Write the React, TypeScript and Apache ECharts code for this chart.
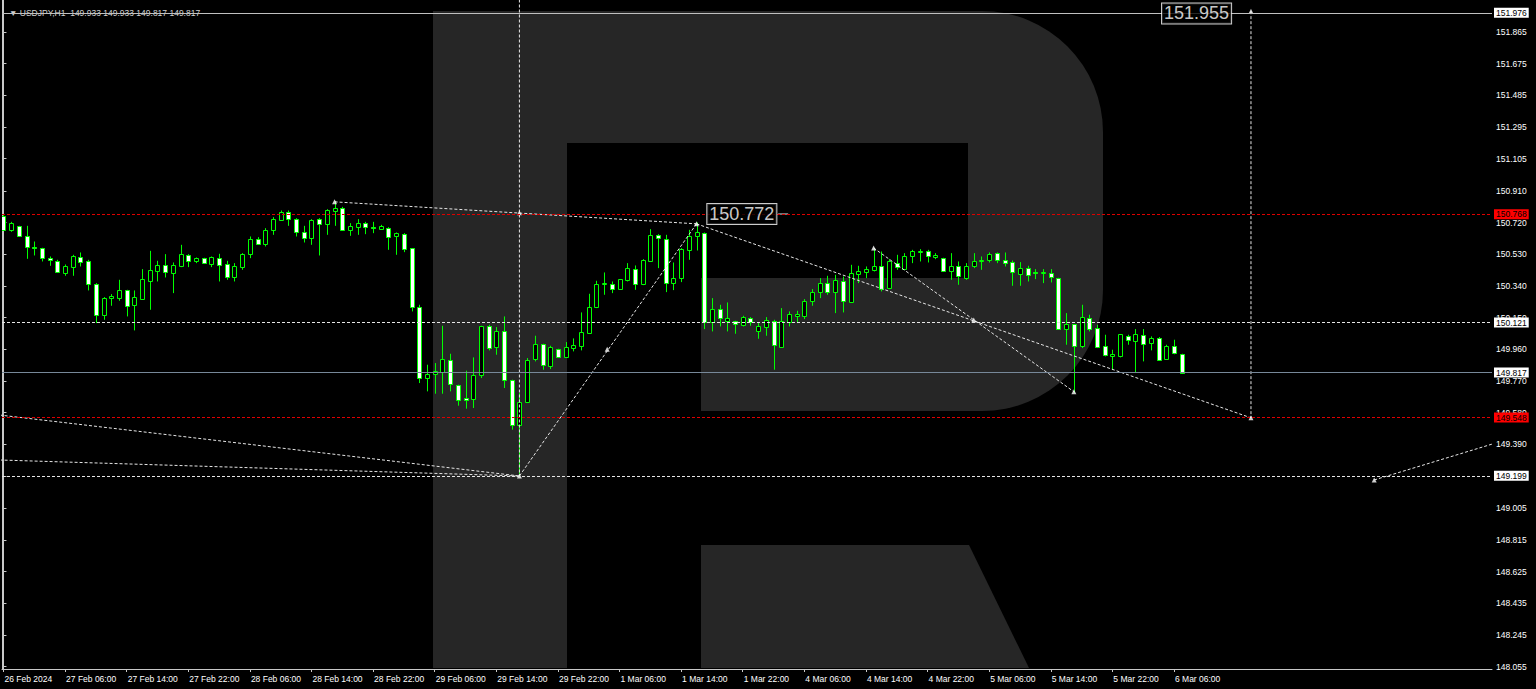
import React, { useEffect, useRef } from "react";
import * as echarts from "echarts";

// ---- data (USDJPY H1, bar index 0 = 26 Feb 22:00) ----
const opens = [
  150.761, 150.673, 150.701, 150.641, 150.573, 150.567, 150.509, 150.491, 150.417, 150.453,
  150.513, 150.487, 150.353, 150.165, 150.265, 150.267, 150.313, 150.223, 150.261, 150.367,
  150.431, 150.463, 150.417, 150.457, 150.527, 150.487, 150.507, 150.471, 150.507, 150.473,
  150.391, 150.451, 150.531, 150.623, 150.593, 150.677, 150.737, 150.785, 150.745, 150.665,
  150.627, 150.741, 150.709, 150.793, 150.811, 150.673, 150.693, 150.717, 150.693, 150.681,
  150.689, 150.641, 150.653, 150.567, 150.213, 149.787, 149.811, 149.821, 149.897, 149.747,
  149.667, 149.663, 149.803, 150.101, 149.971, 150.071, 149.777, 149.507, 149.641, 149.901,
  149.993, 149.861, 149.961, 149.913, 149.967, 149.981, 150.057, 150.211, 150.351, 150.351,
  150.321, 150.377, 150.443, 150.351, 150.491, 150.647, 150.623, 150.357, 150.387, 150.557,
  150.641, 150.657, 150.121, 150.201, 150.127, 150.127, 150.107, 150.147, 150.067, 150.093,
  150.127, 149.973, 150.121, 150.161, 150.157, 150.247, 150.301, 150.357, 150.301, 150.367,
  150.241, 150.411, 150.421, 150.437, 150.457, 150.327, 150.477, 150.441, 150.517, 150.541,
  150.551, 150.513, 150.507, 150.427, 150.461, 150.387, 150.461, 150.491, 150.493, 150.537,
  150.493, 150.481, 150.413, 150.447, 150.421, 150.415, 150.417, 150.387, 150.083, 150.111,
  149.977, 150.147, 150.087, 149.977, 149.917, 149.917, 150.041, 150.011, 150.043, 149.997,
  150.027, 149.901, 149.977, 149.933,
];
const closes = [
  150.677, 150.717, 150.637, 150.571, 150.565, 150.507, 150.493, 150.421, 150.459, 150.521,
  150.481, 150.349, 150.167, 150.267, 150.277, 150.313, 150.217, 150.273, 150.381, 150.433,
  150.463, 150.421, 150.463, 150.531, 150.487, 150.507, 150.477, 150.511, 150.463, 150.391,
  150.457, 150.533, 150.621, 150.593, 150.677, 150.741, 150.787, 150.741, 150.661, 150.627,
  150.737, 150.709, 150.797, 150.809, 150.673, 150.701, 150.717, 150.693, 150.687, 150.697,
  150.633, 150.657, 150.563, 150.213, 149.787, 149.811, 149.827, 149.901, 149.751, 149.657,
  149.657, 149.807, 150.097, 149.967, 150.071, 149.773, 149.507, 149.643, 149.897, 149.991,
  149.863, 149.971, 149.911, 149.973, 149.987, 150.063, 150.213, 150.353, 150.357, 150.323,
  150.381, 150.447, 150.351, 150.497, 150.647, 150.627, 150.357, 150.387, 150.561, 150.641,
  150.663, 150.121, 150.201, 150.147, 150.147, 150.111, 150.153, 150.123, 150.097, 150.137,
  149.983, 150.127, 150.173, 150.173, 150.251, 150.303, 150.357, 150.301, 150.377, 150.247,
  150.417, 150.427, 150.441, 150.457, 150.321, 150.487, 150.453, 150.521, 150.551, 150.547,
  150.521, 150.527, 150.427, 150.457, 150.397, 150.461, 150.491, 150.497, 150.533, 150.497,
  150.477, 150.421, 150.447, 150.407, 150.415, 150.421, 150.391, 150.081, 150.111, 149.977,
  150.153, 150.083, 149.973, 149.927, 149.933, 150.051, 150.013, 150.051, 149.993, 150.027,
  149.897, 149.981, 149.935, 149.817,
];
const lows = [
  150.671, 150.665, 150.635, 150.503, 150.523, 150.487, 150.461, 150.419, 150.401, 150.401,
  150.457, 150.313, 150.117, 150.137, 150.221, 150.251, 150.157, 150.073, 150.257, 150.197,
  150.367, 150.391, 150.297, 150.453, 150.453, 150.477, 150.473, 150.453, 150.367, 150.377,
  150.367, 150.437, 150.507, 150.587, 150.577, 150.647, 150.731, 150.701, 150.637, 150.601,
  150.587, 150.523, 150.647, 150.701, 150.671, 150.641, 150.647, 150.651, 150.657, 150.677,
  150.557, 150.527, 150.543, 150.187, 149.757, 149.707, 149.693, 149.693, 149.707, 149.621,
  149.603, 149.607, 149.787, 149.953, 149.927, 149.727, 149.477, 149.199, 149.637, 149.887,
  149.837, 149.841, 149.909, 149.907, 149.947, 149.953, 150.057, 150.207, 150.287, 150.297,
  150.317, 150.367, 150.317, 150.345, 150.487, 150.447, 150.303, 150.315, 150.363, 150.497,
  150.553, 150.081, 150.067, 150.097, 150.067, 150.053, 150.097, 150.101, 150.023, 150.041,
  149.837, 149.973, 150.097, 150.117, 150.141, 150.221, 150.267, 150.287, 150.177, 150.181,
  150.241, 150.357, 150.387, 150.427, 150.307, 150.321, 150.437, 150.437, 150.477, 150.487,
  150.481, 150.501, 150.425, 150.377, 150.347, 150.377, 150.447, 150.437, 150.481, 150.477,
  150.457, 150.341, 150.341, 150.367, 150.381, 150.357, 150.361, 150.077, 149.987, 149.697,
  149.967, 150.067, 149.967, 149.917, 149.837, 149.911, 149.987, 149.817, 149.887, 149.953,
  149.891, 149.897, 149.930, 149.817,
];
const highs = [
  150.767, 150.725, 150.701, 150.701, 150.607, 150.569, 150.517, 150.497, 150.469, 150.527,
  150.541, 150.497, 150.357, 150.273, 150.291, 150.377, 150.317, 150.313, 150.441, 150.551,
  150.491, 150.531, 150.481, 150.587, 150.531, 150.511, 150.509, 150.517, 150.533, 150.491,
  150.477, 150.537, 150.637, 150.633, 150.687, 150.753, 150.793, 150.793, 150.747, 150.701,
  150.741, 150.747, 150.801, 150.847, 150.815, 150.717, 150.741, 150.725, 150.725, 150.707,
  150.693, 150.661, 150.657, 150.567, 150.227, 149.867, 149.877, 150.101, 149.933, 149.747,
  149.831, 149.911, 150.101, 150.107, 150.093, 150.157, 149.777, 149.697, 149.907, 150.041,
  149.993, 149.981, 149.963, 150.003, 150.025, 150.181, 150.293, 150.371, 150.421, 150.367,
  150.381, 150.477, 150.463, 150.501, 150.681, 150.651, 150.647, 150.481, 150.567, 150.677,
  150.721, 150.661, 150.267, 150.227, 150.241, 150.131, 150.161, 150.153, 150.117, 150.153,
  150.137, 150.207, 150.187, 150.191, 150.261, 150.321, 150.387, 150.401, 150.407, 150.397,
  150.467, 150.461, 150.457, 150.560, 150.547, 150.501, 150.527, 150.537, 150.557, 150.561,
  150.557, 150.537, 150.509, 150.537, 150.487, 150.477, 150.537, 150.517, 150.541, 150.541,
  150.541, 150.493, 150.483, 150.461, 150.441, 150.441, 150.441, 150.389, 150.177, 150.111,
  150.227, 150.167, 150.107, 150.047, 149.957, 150.051, 150.047, 150.081, 150.081, 150.037,
  150.033, 149.987, 150.017, 149.933,
];

const timeTickIndex = [0, 8, 16, 24, 32, 40, 48, 56, 64, 72, 80, 88, 96, 104, 112, 120, 128, 136, 144, 152];
const timeTickLabels = [
  "26 Feb 2024", "27 Feb 06:00", "27 Feb 14:00", "27 Feb 22:00", "28 Feb 06:00", "28 Feb 14:00",
  "28 Feb 22:00", "29 Feb 06:00", "29 Feb 14:00", "29 Feb 22:00", "1 Mar 06:00", "1 Mar 14:00",
  "1 Mar 22:00", "4 Mar 06:00", "4 Mar 14:00", "4 Mar 22:00", "5 Mar 06:00", "5 Mar 14:00",
  "5 Mar 22:00", "6 Mar 06:00",
];
const priceTicks = [
  151.865, 151.675, 151.485, 151.295, 151.105, 150.91, 150.72, 150.53, 150.34, 150.15, 149.96,
  149.77, 149.58, 149.39, 149.2, 149.005, 148.815, 148.625, 148.435, 148.245, 148.055,
];

// horizontal levels: value, kind
const levelValues = [151.976, 150.768, 150.121, 149.817, 149.548, 149.199];
const levelKinds = ["gray", "red", "white", "bid", "red", "white"];

// forecast / trend lines in [bar index, price]
const trendLines = [
  [[43, 150.845], [90, 150.713]],
  [[-0.5, 149.565], [67, 149.199]],
  [[-0.5, 149.295], [67, 149.199]],
  [[67, 149.199], [90, 150.713]],
  [[90, 150.713], [162, 149.548]],
  [[113, 150.568], [139, 149.705]],
  [[178, 149.175], [194, 149.4]],
  [[67, 152.06], [67, 149.199]],
  [[162, 151.99], [162, 149.548]],
  [[100.6, 150.772], [101.9, 150.772]],
  [[159.8, 151.976], [161.2, 151.976]],
];
const arrowPoints = [
  [43, 150.845], [67, 150.779], [90, 150.713], [78.4, 149.96], [67, 149.199], [113, 150.568],
  [126, 150.136], [139, 149.705], [162, 149.548], [162, 151.99], [178, 149.175],
];
const noteLabels = [
  [91.4, 150.772, "150.772"],
  [150.45, 151.976, "151.955"],
];

const FONT = "Liberation Sans, Arial, sans-serif";
const GREEN = "#00ff00";
const AXIS = "#c8c8c8";
const LOGO = "#262626";

export default function App() {
  const ref = useRef<HTMLDivElement>(null);
  useEffect(() => {
    document.body.style.margin = "0";
    document.body.style.background = "#000";
    const chart = echarts.init(ref.current as HTMLDivElement, null, { renderer: "svg" });

    const candleData = opens.map((o, i) => [i, o, closes[i], lows[i], highs[i]]);

    const levelStyle = (kind: string) => {
      if (kind === "red") return { line: { color: "#e00000", width: 1, type: [3, 2] }, bg: "#ff0000", fg: "#000" };
      if (kind === "white") return { line: { color: "#e6e6e6", width: 1, type: [3, 2] }, bg: "#ffffff", fg: "#000" };
      if (kind === "bid") return { line: { color: "#778899", width: 1, type: "solid" }, bg: "#ffffff", fg: "#000" };
      return { line: { color: "#c0c0c0", width: 1, type: "solid" }, bg: "#ffffff", fg: "#000" };
    };

    const series: any[] = [];
    series.push({
      type: "custom",
      name: "candles",
      z: 4,
      clip: true,
      data: candleData,
      encode: { x: 0, y: [1, 2, 3, 4] },
      renderItem: (params: any, api: any) => {
        const x = api.value(0);
        const o = api.value(1);
        const c = api.value(2);
        const l = api.value(3);
        const h = api.value(4);
        const pO = api.coord([x, o]);
        const pC = api.coord([x, c]);
        const pL = api.coord([x, l]);
        const pH = api.coord([x, h]);
        const cx = Math.round(pO[0]) + 0.5;
        const top = Math.round(Math.min(pO[1], pC[1])) + 0.5;
        let bot = Math.round(Math.max(pO[1], pC[1])) + 0.5;
        if (bot - top < 1) bot = top + 1;
        const bull = c > o;
        return {
          type: "group",
          children: [
            { type: "line", shape: { x1: cx, y1: pH[1], x2: cx, y2: pL[1] }, style: { stroke: GREEN, lineWidth: 1 } },
            {
              type: "rect",
              shape: { x: cx - 2, y: top, width: 4, height: bot - top },
              style: { fill: bull ? "#000" : "#fff", stroke: GREEN, lineWidth: 1 },
            },
          ],
        };
      },
    });

    trendLines.forEach((pts, k) => {
      const s: any = {
        type: "line",
        data: pts,
        z: 6,
        silent: true,
        showSymbol: false,
        symbol: "none",
        clip: true,
        lineStyle: { color: "#e6e6e6", width: 1, type: k >= 9 ? "solid" : [3, 2] },
      };
      if (k === 1) {
        s.markLine = {
          silent: true,
          symbol: ["none", "none"],
          z: 8,
          data: levelValues.map((v, j) => {
            const st = levelStyle(levelKinds[j]);
            return {
              yAxis: v,
              lineStyle: st.line,
              label: {
                show: true,
                position: "end",
                distance: 2,
                formatter: v.toFixed(3),
                backgroundColor: st.bg,
                color: st.fg,
                fontSize: 8.5,
                fontFamily: FONT,
                padding: [1, 2, 0, 2],
              },
            };
          }),
        };
      }
      series.push(s);
    });

    series.push({
      type: "scatter",
      data: arrowPoints,
      symbol: "triangle",
      symbolSize: 5,
      z: 7,
      silent: true,
      itemStyle: { color: "#ffffff" },
    });

    series.push({
      type: "scatter",
      data: noteLabels,
      symbolSize: 0,
      z: 9,
      silent: true,
      label: {
        show: true,
        position: "right",
        distance: 0,
        formatter: (p: any) => p.value[2],
        color: "#ffffff",
        fontSize: 18,
        fontFamily: FONT,
        backgroundColor: "#000",
        borderColor: "#ffffff",
        borderWidth: 1,
        padding: [2, 2, 0, 2],
      },
    });

    const option: any = {
      animation: false,
      backgroundColor: "#000",
      title: {
        text: "\u25BC USDJPY,H1\u00a0\u00a0149.933 149.933 149.817 149.817",
        left: 4,
        top: 3,
        textStyle: { fontSize: 8.5, color: "#d0d0d0", fontWeight: "normal", fontFamily: FONT },
      },
      grid: { left: 2, right: 44, top: 0, bottom: 20, containLabel: false },
      xAxis: {
        type: "value",
        min: -0.19,
        max: 193.3,
        axisLine: { show: true, lineStyle: { color: AXIS } },
        axisTick: { show: true, length: 3, customValues: timeTickIndex, lineStyle: { color: AXIS } },
        axisLabel: {
          customValues: timeTickIndex,
          formatter: (v: number) => timeTickLabels[Math.round(v / 8)] || "",
          align: "left",
          color: "#ffffff",
          fontSize: 8.5,
          fontFamily: FONT,
          margin: 5,
          padding: [0, 0, 0, 1],
        },
        splitLine: { show: false },
      },
      yAxis: [
        {
          type: "value",
          position: "right",
          min: 148.04,
          max: 152.057,
          axisLine: { show: true, lineStyle: { color: AXIS } },
          axisTick: { show: true, length: 3, customValues: priceTicks, lineStyle: { color: AXIS } },
          axisLabel: {
            customValues: priceTicks,
            formatter: (v: number) => v.toFixed(3),
            color: "#ffffff",
            fontSize: 8.5,
            fontFamily: FONT,
            margin: 4,
          },
          splitLine: { show: false },
        },
        {
          type: "value",
          position: "left",
          min: 148.04,
          max: 152.057,
          axisLine: { show: true, lineStyle: { color: AXIS } },
          axisTick: { show: false },
          axisLabel: { show: false },
          splitLine: { show: false },
        },
      ],
      graphic: [
        { type: "rect", z: 0, silent: true, shape: { x: 433, y: 11, width: 134, height: 657 }, style: { fill: LOGO } },
        { type: "rect", z: 0, silent: true, shape: { x: 567, y: 11, width: 536, height: 400, r: [0, 121, 121, 0] }, style: { fill: LOGO } },
        { type: "rect", z: 0, silent: true, shape: { x: 567, y: 143, width: 401, height: 135 }, style: { fill: "#000" } },
        { type: "rect", z: 0, silent: true, shape: { x: 567, y: 278, width: 134, height: 133 }, style: { fill: "#000" } },
        {
          type: "polygon",
          z: 0,
          silent: true,
          shape: { points: [[701, 545], [969, 545], [1029, 668], [701, 668]] },
          style: { fill: LOGO },
        },
      ],
      series,
    };
    chart.setOption(option);
    return () => chart.dispose();
  }, []);
  return <div ref={ref} style={{ width: 1536, height: 689, background: "#000" }} />;
}
